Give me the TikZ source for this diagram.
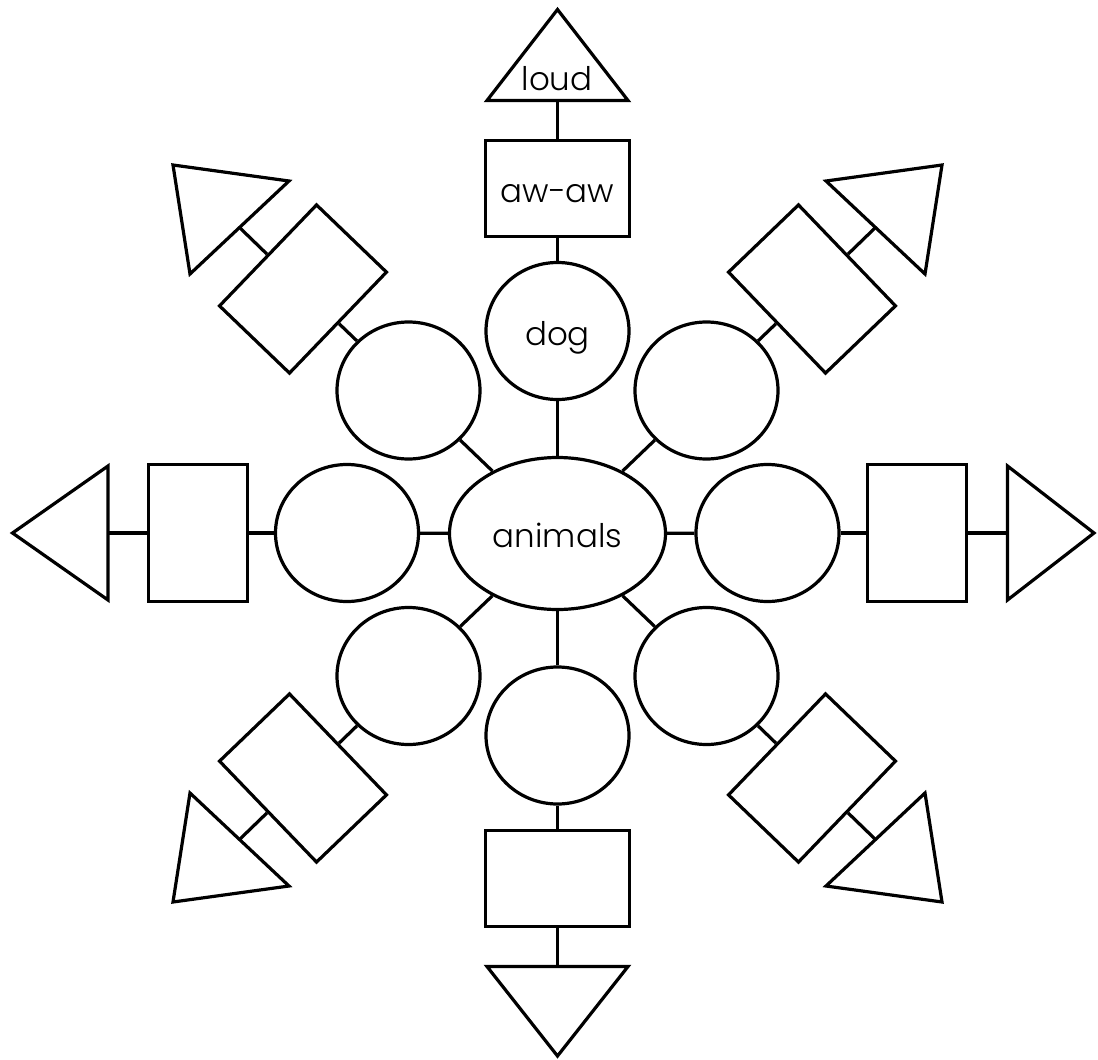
\documentclass[tikz,border=0pt]{standalone}
\usepackage{fontspec}
\IfFontExistsTF{Poppins Light}{\setmainfont{Poppins Light}}{\setmainfont{Poppins}}
\usetikzlibrary{shapes.geometric}
\begin{document}
\begin{tikzpicture}[x=1pt,y=-1pt, line width=3.2pt,
  oval/.style={ellipse, draw, inner sep=0pt, minimum width=143pt, minimum height=137pt},
  boxvert/.style={rectangle, draw, inner sep=0pt, minimum width=144pt, minimum height=96pt},
  boxhor/.style={rectangle, draw, inner sep=0pt, minimum width=99pt, minimum height=137pt},
  boxdiag/.style={rectangle, draw, inner sep=0pt, minimum width=97pt, minimum height=140pt},
  txt/.style={font=\fontsize{32.5}{39}\selectfont, text height=28pt, text depth=0pt}
]
\useasboundingbox (0,0) rectangle (1098,1060);
% centre
\node[oval, minimum width=216pt, minimum height=152pt, txt] (main) at (557.5,533.5) {animals};
% circles
\node[oval, txt] (cT) at (557.5,331) {dog};
\node[oval] (cB) at (557.5,735.5) {};
\node[oval] (cL) at (347,533) {};
\node[oval] (cR) at (767.5,533) {};
\node[oval] (cUL) at (408.5,390.5) {};
\node[oval] (cUR) at (706.5,390.5) {};
\node[oval] (cLL) at (408.5,676) {};
\node[oval] (cLR) at (706.5,676) {};
% boxes
\node[boxvert, txt] (bT) at (557.5,188.5) {aw-aw};
\node[boxvert] (bB) at (557.5,878.5) {};
\node[boxhor] (bL) at (198,533) {};
\node[boxhor] (bR) at (917,533) {};
\node[boxdiag, rotate=-43.85] (bUL) at (303,289) {};
\node[boxdiag, rotate=43.85] (bUR) at (812,289) {};
\node[boxdiag, rotate=43.85] (bLL) at (303,778) {};
\node[boxdiag, rotate=-43.85] (bLR) at (812,778) {};
% triangles
\coordinate (tT) at (557.5,100.5);
\draw (487,100.5) -- (557.5,9.5) -- (628,100.5) -- cycle;
\node[txt] (loud) at (557,76.5) {loud};
\coordinate (tB) at (557.5,966.5);
\draw (487,966.5) -- (557.5,1056) -- (628,966.5) -- cycle;
\coordinate (tL) at (108,533);
\draw (108,466) -- (12.5,533) -- (108,600) -- cycle;
\coordinate (tR) at (1007.5,533);
\draw (1007.5,466) -- (1094,533) -- (1007.5,600) -- cycle;
\coordinate (tUL) at (239.5,227.5);
\draw (289,181) -- (173,165) -- (190,274) -- cycle;
\coordinate (tUR) at (875.5,227.5);
\draw (826,181) -- (942,165) -- (925,274) -- cycle;
\coordinate (tLL) at (239.5,839.5);
\draw (289,886) -- (173,902) -- (190,793) -- cycle;
\coordinate (tLR) at (875.5,839.5);
\draw (826,886) -- (942,902) -- (925,793) -- cycle;
% connectors
\foreach \d in {T,B,L,R,UL,UR,LL,LR}{
  \draw (main) -- (c\d);
  \draw (c\d) -- (b\d);
  \draw (b\d) -- (t\d);
}
\end{tikzpicture}
\end{document}
